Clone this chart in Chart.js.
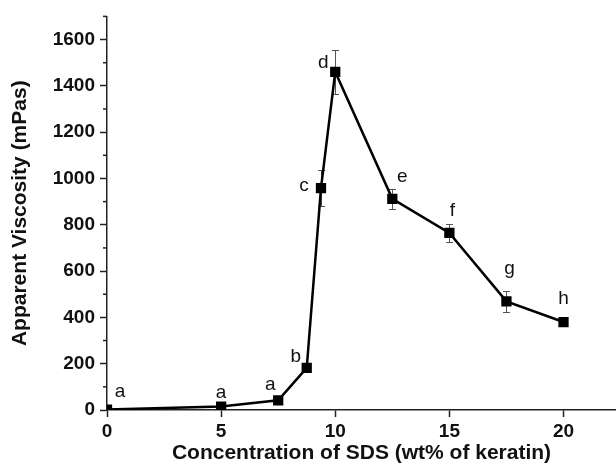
<!DOCTYPE html>
<html>
<head>
<meta charset="utf-8">
<script src="https://cdn.jsdelivr.net/npm/chart.js@4"></script>
<style>
  html, body { margin: 0; padding: 0; background: #fff; }
  #wrap { width: 616px; height: 466px; }
</style>
</head>
<body>
<div id="wrap"><canvas id="viscChart" width="616" height="466"></canvas></div>
<script>
// data
const sdsConc = [0, 5, 7.5, 8.75, 9.375, 10, 12.5, 15, 17.5, 20];
const viscosity = [2, 15, 42, 182, 958, 1460, 912, 765, 469, 380];
const viscErr = [0, 0, 0, 0, 78, 95, 43, 40, 47, 10];
const groupLetters = ['a', 'a', 'a', 'b', 'c', 'd', 'e', 'f', 'g', 'h'];
const xTicks = [0, 5, 10, 15, 20];
const yTicks = [0, 200, 400, 600, 800, 1000, 1200, 1400, 1600];
const yMinorTicks = [100, 300, 500, 700, 900, 1100, 1300, 1500, 1700];

const FONT = "'Liberation Sans', Arial, sans-serif";

// where each letter sits relative to its point
const letterOffsets = [[13, -18], [0, -14], [-8, -16], [-11, -11], [-17, -2],
                       [-12, -9], [10, -22], [3, -22], [3, -33], [0, -23]];

const annotate = {
    id: 'annotate',
    beforeDatasetsDraw(chart) {
        const { ctx, scales: { x, y } } = chart;
        ctx.save();
        // error bars
        ctx.strokeStyle = '#555';
        ctx.lineWidth = 1;
        sdsConc.forEach((c, i) => {
            if (!viscErr[i]) return;
            const px = Math.round(x.getPixelForValue(c)) + 0.5;
            const top = Math.round(y.getPixelForValue(viscosity[i] + viscErr[i])) + 0.5;
            const bot = Math.round(y.getPixelForValue(viscosity[i] - viscErr[i])) + 0.5;
            ctx.beginPath();
            ctx.moveTo(px, top); ctx.lineTo(px, bot);
            ctx.moveTo(px - 3.5, top); ctx.lineTo(px + 3.5, top);
            ctx.moveTo(px - 3.5, bot); ctx.lineTo(px + 3.5, bot);
            ctx.stroke();
        });
        // minor ticks on the y axis
        ctx.strokeStyle = '#222';
        ctx.lineWidth = 1.5;
        yMinorTicks.forEach(v => {
            const py = y.getPixelForValue(v);
            ctx.beginPath();
            ctx.moveTo(x.left - 4, py);
            ctx.lineTo(x.left, py);
            ctx.stroke();
        });
        ctx.restore();
    },
    afterDatasetsDraw(chart) {
        const { ctx, scales: { x, y } } = chart;
        ctx.save();
        ctx.fillStyle = '#111';
        ctx.font = '19px ' + FONT;
        ctx.textAlign = 'center';
        ctx.textBaseline = 'middle';
        groupLetters.forEach((l, i) => {
            const px = x.getPixelForValue(sdsConc[i]);
            const py = y.getPixelForValue(viscosity[i]);
            ctx.fillText(l, px + letterOffsets[i][0], py + letterOffsets[i][1]);
        });
        ctx.restore();
    }
};

const ctx = document.getElementById('viscChart').getContext('2d');
new Chart(ctx, {
    type: 'line',
    data: {
        datasets: [{
            data: sdsConc.map((c, i) => ({ x: c, y: viscosity[i] })),
            borderColor: '#000',
            backgroundColor: '#000',
            borderWidth: 2.5,
            pointStyle: 'rect',
            pointRadius: 5.5,
            pointHoverRadius: 5.5,
            tension: 0
        }]
    },
    options: {
        responsive: false,
        animation: false,
        events: [],
        layout: { autoPadding: false, padding: { top: 14, right: 0, left: 0, bottom: 0 } },
        plugins: { legend: { display: false }, tooltip: { enabled: false } },
        scales: {
            x: {
                type: 'linear',
                min: 0,
                max: 22.3,
                afterBuildTicks: s => { s.ticks = xTicks.map(v => ({ value: v })); },
                afterFit: s => { s.height = 56; s.paddingLeft = 0; s.paddingRight = 0; },
                grid: { drawOnChartArea: false, tickLength: 7, tickWidth: 1.5, tickColor: '#222' },
                border: { color: '#222', width: 1.5 },
                ticks: { color: '#111', padding: 3, maxRotation: 0, callback: v => String(v),
                         font: { family: FONT, size: 19, weight: 'bold' } },
                title: {
                    display: true,
                    text: 'Concentration of SDS (wt% of keratin)',
                    color: '#111',
                    padding: { top: 0, bottom: 0.5 },
                    font: { family: FONT, size: 21, weight: 'bold' }
                }
            },
            y: {
                min: 0,
                max: 1700,
                afterBuildTicks: s => { s.ticks = yTicks.map(v => ({ value: v })); },
                afterFit: s => { s.width = 107; },
                grid: { drawOnChartArea: false, tickLength: 7, tickWidth: 1.5, tickColor: '#222' },
                border: { color: '#222', width: 1.5 },
                ticks: { color: '#111', padding: 5, callback: v => String(v),
                         font: { family: FONT, size: 19, weight: 'bold' } },
                title: {
                    display: true,
                    text: 'Apparent Viscosity (mPas)',
                    color: '#111',
                    padding: { top: 8, bottom: 0 },
                    font: { family: FONT, size: 21, weight: 'bold' }
                }
            }
        }
    },
    plugins: [annotate]
});
</script>
</body>
</html>
